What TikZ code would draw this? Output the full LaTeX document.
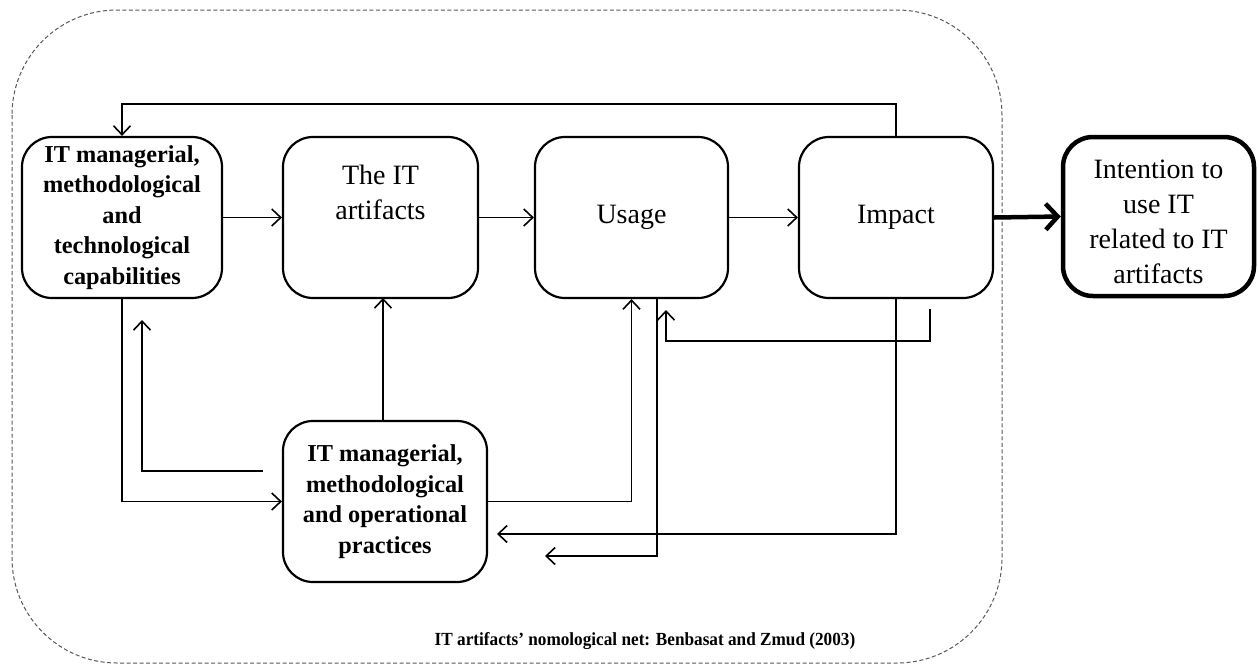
\documentclass[tikz,border=0pt]{standalone}
\usepackage{fontspec}
\setmainfont{Liberation Serif}
\newfontfamily\capfont[FakeStretch=0.93]{Liberation Serif}
\usetikzlibrary{arrows.meta}
\begin{document}
\begin{tikzpicture}[x=1pt,y=-1pt,
  box/.style={draw,line width=2.2pt,rounded corners=30pt,align=center,inner sep=0pt},
  boldbox/.style={box,font=\fontsize{24.3}{30.5}\selectfont\bfseries},
  plainbox/.style={box,font=\fontsize{28}{35}\selectfont},
  conn/.style={line width=1.6pt,-{Straight Barb[length=9pt,width=17pt,line width=1.6pt]}},
  thickconn/.style={line width=4.5pt,-{Straight Barb[length=12pt,width=26pt,line width=4.5pt]}}]
\useasboundingbox (0,0) rectangle (1259,665);
\fill[white] (0,0) rectangle (1259,665);
% outer dashed frame
\draw[gray!70!black,line width=1pt,dash pattern=on 4pt off 2.5pt,rounded corners=105pt] (12,10) rectangle (1002,663);
% nodes
\node[boldbox,minimum width=200pt,minimum height=161pt] (A) at (122,217.5) {IT managerial,\\methodological\\and\\technological\\capabilities};
\node[plainbox,minimum width=195pt,minimum height=161pt,text depth=50pt] (B) at (380.5,217.5) {The IT\\artifacts};
\node[plainbox,minimum width=193pt,minimum height=161pt] (C) at (631.5,217.5) {Usage};
\node[plainbox,minimum width=194pt,minimum height=161pt] (D) at (896,217.5) {Impact};
\node[plainbox,line width=4.5pt,minimum width=191pt,minimum height=159pt,text height=134pt,text depth=0pt] (E) at (1158.5,216.5) {Intention to\\use IT\\related to IT\\artifacts};
\node[boldbox,minimum width=204pt,minimum height=161pt] (F) at (385,501.5) {IT managerial,\\methodological\\and operational\\practices};
\node[font=\fontsize{18.5}{22}\capfont\bfseries,anchor=base,inner sep=0pt] (cap) at (645,645) {IT artifacts’ nomological net: Benbasat and Zmud (2003)};
% coordinates
\coordinate (top) at (500,104);
\coordinate (lA) at (263,471);
\coordinate (lAc) at (142,471);
\coordinate (lAt) at (142,320);
\coordinate (dF) at (497,534);
\coordinate (cS) at (657,298);
\coordinate (cSb) at (657,556);
\coordinate (cSt) at (545,556);
\coordinate (sD) at (930,309);
\coordinate (sDb) at (930,341);
\coordinate (sDc) at (666,341);
\coordinate (sDt) at (666,310);
% connectors
\draw[conn] (A.east) -- (B.west);
\draw[conn] (B.east) -- (C.west);
\draw[conn] (C.east) -- (D.west);
\draw[thickconn] (D.east) -- (E.west);
\draw[conn] (D.north) |- (top) -| (A.north);
\draw[conn] (A.south) |- (F.west);
\draw[conn] (lA) -- (lAc) -- (lAt);
\draw[conn] (F.north -| 383,0) -- (383,298);
\draw[conn] (F.east) -| (C.south);
\draw[conn] (D.south) |- (dF);
\draw[conn] (cS) -- (cSb) -- (cSt);
\draw[conn] (sD) -- (sDb) -- (sDc) -- (sDt);
\end{tikzpicture}
\end{document}
